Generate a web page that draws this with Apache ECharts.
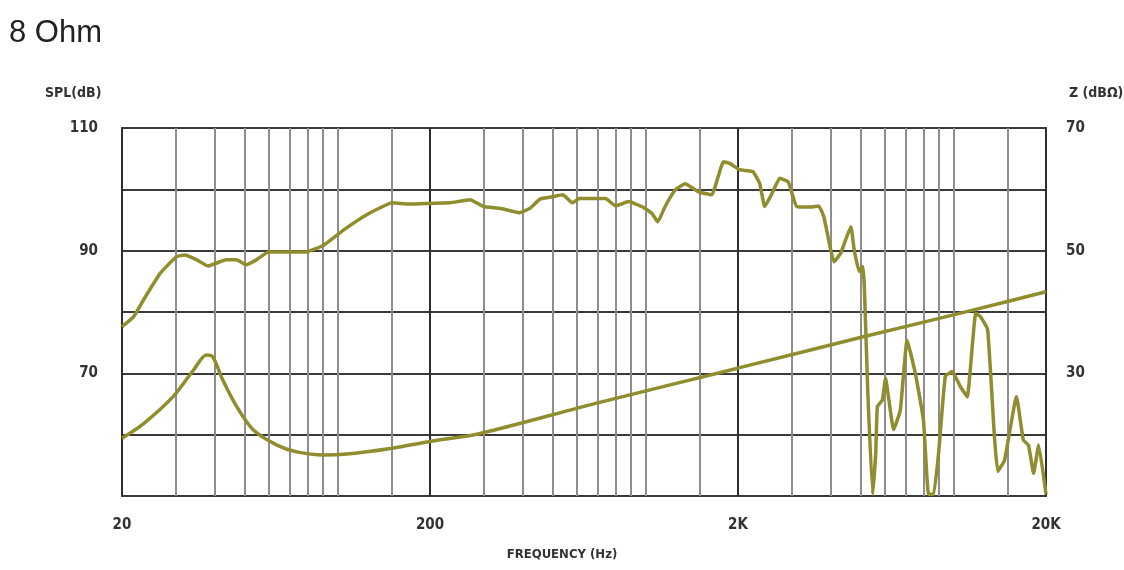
<!DOCTYPE html>
<html>
<head>
<meta charset="utf-8">
<script src="https://cdn.jsdelivr.net/npm/echarts@6/dist/echarts.min.js"></script>
<style>
html,body{margin:0;padding:0;background:#fff;}
#chart{width:1124px;height:570px;}
</style>
</head>
<body>
<div id="chart"></div>
<script>
// ---- data ----
const splFreq = [20, 21.8, 23.5, 26.6, 30, 32, 35, 38, 43.6, 47.1, 50.5, 54.6, 59.8, 68.6, 79.4, 90.3, 105, 127, 151, 171, 200, 232, 270, 298, 337, 391, 422, 455, 502, 540, 580, 611, 743, 800, 883, 974, 1050, 1098, 1160, 1251, 1347, 1488, 1643, 1794, 1886, 2023, 2233, 2351, 2442, 2566, 2734, 2912, 3103, 3433, 3656, 3801, 4100, 4310, 4650, 4768, 4950, 5080, 5144, 5270, 5470, 5600, 5670, 5880, 6030, 6180, 6400, 6730, 7080, 7530, 8000, 8310, 8630, 8960, 9420, 9910, 10550, 11100, 11830, 12280, 12930, 13600, 13950, 14680, 16040, 16880, 17540, 18230, 18930, 20000];
const splDb = [77.6, 79.2, 82, 86.3, 89, 89.3, 88.5, 87.5, 88.5, 88.5, 87.7, 88.5, 89.8, 89.8, 89.8, 90.9, 93.4, 96.1, 97.8, 97.6, 97.7, 97.8, 98.3, 97.2, 96.9, 96.2, 96.9, 98.4, 98.8, 99.1, 97.8, 98.5, 98.5, 97.3, 98.0, 97.2, 96.1, 94.7, 97.2, 99.9, 100.9, 99.6, 99.1, 104.5, 104.2, 103.2, 102.9, 101.0, 97.2, 99.1, 101.8, 101.2, 97.2, 97.1, 97.3, 95.5, 88.2, 89.6, 93.9, 90.1, 86.6, 87.4, 84.1, 67.8, 50.3, 57, 64.6, 65.6, 69.2, 65.6, 60.8, 64.0, 75.4, 70.0, 62.4, 50.3, 50.3, 57, 69.5, 70.3, 67.8, 66.2, 79.8, 79.2, 77.1, 59.7, 54.0, 55.9, 66.2, 59.1, 58.3, 53.7, 58.3, 50.3];

const zFreq = [20, 23.5, 29.3, 34.1, 37.6, 39.4, 42.5, 47.1, 53.3, 63.7, 73.8, 90.3, 105, 151, 200, 291, 690, 1980, 5144, 11570, 20000];
const zVal = [19.4, 21.8, 26.2, 30.5, 33.0, 32.7, 28.9, 24.6, 20.8, 18.3, 17.2, 16.7, 16.8, 17.8, 18.9, 20.2, 25.1, 30.8, 36.0, 40.3, 43.3];

const majorFreqs = [20, 200, 2000, 20000];
const majorLabels = ['20', '200', '2K', '20K'];
const minorFreqs = [30, 40, 50, 60, 70, 80, 90, 100, 150,
                    300, 400, 500, 600, 700, 800, 900, 1000, 1500,
                    3000, 4000, 5000, 6000, 7000, 8000, 9000, 10000, 15000];
const splLabels = [110, 90, 70];
const zLabels = [70, 50, 30];

// ---- chart ----
const FONT = '"DejaVu Sans Condensed", "Liberation Sans Narrow", "DejaVu Sans", sans-serif';
const COLOR = '#8f8d2d';
const chart = echarts.init(document.getElementById('chart'), null, {renderer: 'canvas'});

const option = {
  backgroundColor: '#ffffff',
  animation: false,
  title: [
    {text: '8 Ohm', left: 4, top: 13, textStyle: {fontFamily: '"Liberation Sans", Arial, sans-serif', fontSize: 31, fontWeight: 'normal', color: '#222'}},
    {text: 'SPL(dB)', left: 40, top: 81, textStyle: {fontFamily: FONT, fontSize: 14, fontWeight: 'bold', color: '#333'}},
    {text: 'Z (dBΩ)', left: 1064, top: 81, textStyle: {fontFamily: FONT, fontSize: 14, fontWeight: 'bold', color: '#333'}},
    {text: 'FREQUENCY (Hz)', left: 'center', top: 543, textStyle: {fontFamily: FONT, fontSize: 13, fontWeight: 'bold', color: '#333'}}
  ],
  grid: {left: 122, right: 78, top: 128, bottom: 74, show: true, borderColor: '#3a3a3a', borderWidth: 2, backgroundColor: 'transparent'},
  xAxis: {
    type: 'log', logBase: 10, min: 20, max: 20000,
    axisLine: {show: false}, axisTick: {show: false}, axisLabel: {show: false},
    splitLine: {show: false}, minorSplitLine: {show: false}
  },
  yAxis: [
    {
      type: 'value', min: 50, max: 110, interval: 10, position: 'left',
      axisLine: {show: false}, axisTick: {show: false},
      axisLabel: {margin: 24, fontFamily: FONT, fontSize: 15, fontWeight: 'bold', color: '#333',
        formatter: v => splLabels.includes(v) ? String(v) : ''},
      splitLine: {show: true, lineStyle: {color: '#3a3a3a', width: 2}}
    },
    {
      type: 'value', min: 10, max: 70, interval: 10, position: 'right',
      axisLine: {show: false}, axisTick: {show: false},
      axisLabel: {margin: 20, fontFamily: FONT, fontSize: 15, fontWeight: 'bold', color: '#333',
        formatter: v => zLabels.includes(v) ? String(v) : ''},
      splitLine: {show: false}
    }
  ],
  series: [
    {
      name: 'minorGrid', type: 'line', z: 1, silent: true, showSymbol: false,
      data: [[20, 50]], lineStyle: {opacity: 0},
      markLine: {
        silent: true, symbol: ['none', 'none'], animation: false,
        label: {show: false},
        lineStyle: {color: '#8e8e8e', width: 2, type: 'solid'},
        data: minorFreqs.map(f => ({xAxis: f}))
      }
    },
    {
      name: 'majorGrid', type: 'line', z: 1, silent: true, showSymbol: false,
      data: [[20, 50]], lineStyle: {opacity: 0},
      markLine: {
        silent: true, symbol: ['none', 'none'], animation: false,
        label: {show: true, position: 'start', distance: 22, formatter: p => p.name,
          fontFamily: FONT, fontSize: 15, fontWeight: 'bold', color: '#333'},
        lineStyle: {color: '#2e2e2e', width: 2, type: 'solid'},
        data: majorFreqs.map((f, i) => ({xAxis: f, name: majorLabels[i]}))
      }
    },
    {
      name: 'SPL', type: 'line', z: 5, yAxisIndex: 0, showSymbol: false, smooth: 0.12,
      lineStyle: {color: COLOR, width: 3.5}, itemStyle: {color: COLOR},
      data: splFreq.map((f, i) => [f, splDb[i]])
    },
    {
      name: 'Z', type: 'line', z: 5, yAxisIndex: 1, showSymbol: false, smooth: 0.3,
      lineStyle: {color: COLOR, width: 3.5}, itemStyle: {color: COLOR},
      data: zFreq.map((f, i) => [f, zVal[i]])
    }
  ]
};
chart.setOption(option);
</script>
</body>
</html>
